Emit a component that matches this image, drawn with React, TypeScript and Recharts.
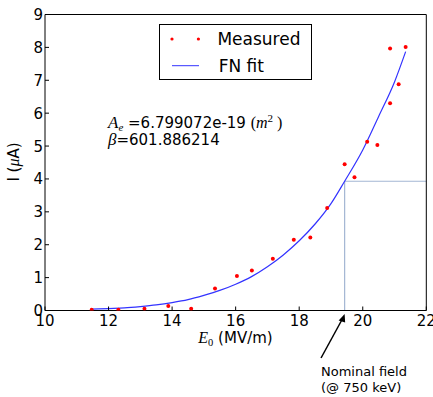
import React from 'react';
import { ComposedChart, Line, Scatter, XAxis, YAxis, ReferenceLine, ReferenceDot, Legend } from 'recharts';

// measured emission points, E0 in MV/m and I in uA
const measuredE = [11.47, 12.31, 13.13, 13.88, 14.6, 15.35, 16.04, 16.51, 17.17, 17.83, 18.35, 18.88, 19.43, 19.74, 20.14, 20.46, 20.86, 20.86, 21.13, 21.35];
const measuredI = [0.02, 0.02, 0.05, 0.14, 0.05, 0.67, 1.05, 1.22, 1.57, 2.15, 2.22, 3.12, 4.45, 4.05, 5.13, 5.03, 6.3, 7.97, 6.88, 8.01];

// Fowler-Nordheim fit curve
const fitE = [11.47, 12, 12.5, 13, 13.5, 14, 14.5, 15, 15.5, 16, 16.5, 17, 17.5, 18, 18.5, 19, 19.43, 20, 20.5, 21, 21.35];
const fitI = [0.04, 0.06, 0.08, 0.12, 0.17, 0.24, 0.33, 0.46, 0.61, 0.8, 1.03, 1.33, 1.69, 2.12, 2.63, 3.25, 3.93, 4.88, 5.9, 6.95, 7.87];

const xTicks = [10, 12, 14, 16, 18, 20, 22];
const yTicks = [0, 1, 2, 3, 4, 5, 6, 7, 8, 9];

const nominalField = 19.43;
const nominalCurrent = 3.93;

const measured = measuredE.map((x, i) => ({ x, y: measuredI[i] }));
const fit = fitE.map((x, i) => ({ x, y: fitI[i] }));

const FONT = '"DejaVu Sans", sans-serif';
const MATH = '"Liberation Serif", serif';

const BottomTick = (props: any) => {
  const { x, y, payload } = props;
  return (
    <g>
      <line x1={x} x2={x} y1={y} y2={y - 4} stroke="#000" />
      <text x={x} y={y + 15} textAnchor="middle" fontSize={15} fontFamily={FONT} fill="#000">{payload.value}</text>
    </g>
  );
};

const LeftTick = (props: any) => {
  const { x, y, payload } = props;
  return (
    <g>
      <line x1={x} x2={x + 4} y1={y} y2={y} stroke="#000" />
      <text x={x - 2} y={y + 5.5} textAnchor="end" fontSize={15} fontFamily={FONT} fill="#000">{payload.value}</text>
    </g>
  );
};

const TopTick = (props: any) => {
  const { x, y } = props;
  return <line x1={x} x2={x} y1={y} y2={y + 4} stroke="#000" />;
};

const RightTick = (props: any) => {
  const { x, y } = props;
  return <line x1={x} x2={x - 4} y1={y} y2={y} stroke="#000" />;
};

const Dot = (props: any) => <circle cx={props.cx} cy={props.cy} r={2} fill="#ff0000" />;

const NominalNote = (props: any) => {
  const { cx, cy } = props;
  return (
    <g>
      <line x1={cx - 23.6} y1={cy + 47.5} x2={cx - 2} y2={cy + 8} stroke="#000" strokeWidth={1.5} />
      <polygon points={`${cx},${cy + 3.5} ${cx - 6},${cy + 10} ${cx + 0.5},${cy + 12}`} fill="#000" />
      <text x={cx - 23.6} y={cy + 65.5} fontSize={13} fontFamily={FONT} fill="#000">Nominal field</text>
      <text x={cx - 23.6} y={cy + 81} fontSize={13} fontFamily={FONT} fill="#000">(@ 750 keV)</text>
    </g>
  );
};

const LegendBox = () => (
  <svg width={153} height={56} style={{ display: 'block' }}>
    <rect x={0.5} y={0.5} width={152} height={55} fill="#fff" stroke="#000" />
    <circle cx={13} cy={15} r={1.6} fill="#ff0000" />
    <circle cx={39.4} cy={15} r={1.6} fill="#ff0000" />
    <line x1={13} x2={40} y1={41.7} y2={41.7} stroke="#3333ff" />
    <text x={58.4} y={21} fontSize={17} fontFamily={FONT} fill="#000">Measured</text>
    <text x={59.7} y={47.7} fontSize={17} fontFamily={FONT} fill="#000">FN fit</text>
  </svg>
);

export default function App() {
  return (
    <div style={{ position: 'absolute', left: 0, top: 0, width: 433, height: 397, background: '#fff' }}>
      <ComposedChart width={433} height={397} margin={{ top: 13.5, right: 5.7, bottom: 85.5, left: 44 }}>
        <XAxis xAxisId={0} dataKey="x" type="number" domain={[10, 22]} ticks={xTicks} interval={0}
          height={1} tickSize={0} tickMargin={0} tickLine={false} axisLine={{ stroke: '#000' }} tick={<BottomTick />} allowDataOverflow />
        <XAxis xAxisId="top" orientation="top" type="number" domain={[10, 22]} ticks={xTicks} interval={0}
          height={1} tickSize={0} tickMargin={0} tickLine={false} axisLine={{ stroke: '#000' }} tick={<TopTick />} />
        <YAxis yAxisId={0} dataKey="y" type="number" domain={[0, 9]} ticks={yTicks} interval={0}
          width={1} tickSize={0} tickMargin={0} tickLine={false} axisLine={{ stroke: '#000' }} tick={<LeftTick />} allowDataOverflow />
        <YAxis yAxisId="right" orientation="right" type="number" domain={[0, 9]} ticks={yTicks} interval={0}
          width={1} tickSize={0} tickMargin={0} tickLine={false} axisLine={{ stroke: '#000' }} tick={<RightTick />} />
        <ReferenceLine segment={[{ x: nominalField, y: 0 }, { x: nominalField, y: nominalCurrent }]} stroke="#a3b6d3" strokeWidth={1.2} />
        <ReferenceLine segment={[{ x: nominalField, y: nominalCurrent }, { x: 22, y: nominalCurrent }]} stroke="#a3b6d3" strokeWidth={1.2} />
        <Line data={fit} dataKey="y" type="monotone" stroke="#3333ff" strokeWidth={1.2} dot={false} isAnimationActive={false} legendType="line" name="FN fit" />
        <Scatter data={measured} dataKey="y" shape={<Dot />} isAnimationActive={false} name="Measured" />
        <ReferenceDot x={nominalField} y={0} shape={<NominalNote />} />
        <Legend layout="vertical" align="center" verticalAlign="middle" content={<LegendBox />}
          wrapperStyle={{ position: 'absolute', left: 159.3, top: 23.5, width: 153, height: 56 }} />
      </ComposedChart>
      <svg width={433} height={397} style={{ position: 'absolute', left: 0, top: 0, pointerEvents: 'none' }}>
        <text x={108} y={127.5} fontSize={15} fontFamily={FONT} fill="#000">
          <tspan fontFamily={MATH} fontStyle="italic" fontSize={17}>A</tspan>
          <tspan fontFamily={MATH} fontStyle="italic" fontSize={11} dy={3}>e</tspan>
          <tspan dy={-3}> =6.799072e-19 </tspan>
          <tspan fontFamily={MATH} fontSize={16}>(</tspan>
          <tspan fontFamily={MATH} fontStyle="italic" fontSize={16}>m</tspan>
          <tspan fontFamily={MATH} fontSize={11} dy={-6}>2</tspan>
          <tspan fontFamily={MATH} fontSize={16} dy={6}> )</tspan>
        </text>
        <text x={108} y={145} fontSize={15} fontFamily={FONT} fill="#000">
          <tspan fontFamily={MATH} fontStyle="italic" fontSize={17}>β</tspan>
          <tspan>=601.886214</tspan>
        </text>
        <text x={235.5} y={342.5} textAnchor="middle" fontSize={15} fontFamily={FONT} fill="#000">
          <tspan fontFamily={MATH} fontStyle="italic" fontSize={16}>E</tspan>
          <tspan fontFamily={MATH} fontSize={10.5} dy={3}>0</tspan>
          <tspan dy={-3}>  (MV/m)</tspan>
        </text>
        <text transform="translate(18.5, 162) rotate(-90)" textAnchor="middle" fontSize={15} fontFamily={FONT} fill="#000">
          I (<tspan fontFamily={MATH} fontStyle="italic" fontSize={16}>μ</tspan>A)
        </text>
      </svg>
    </div>
  );
}
